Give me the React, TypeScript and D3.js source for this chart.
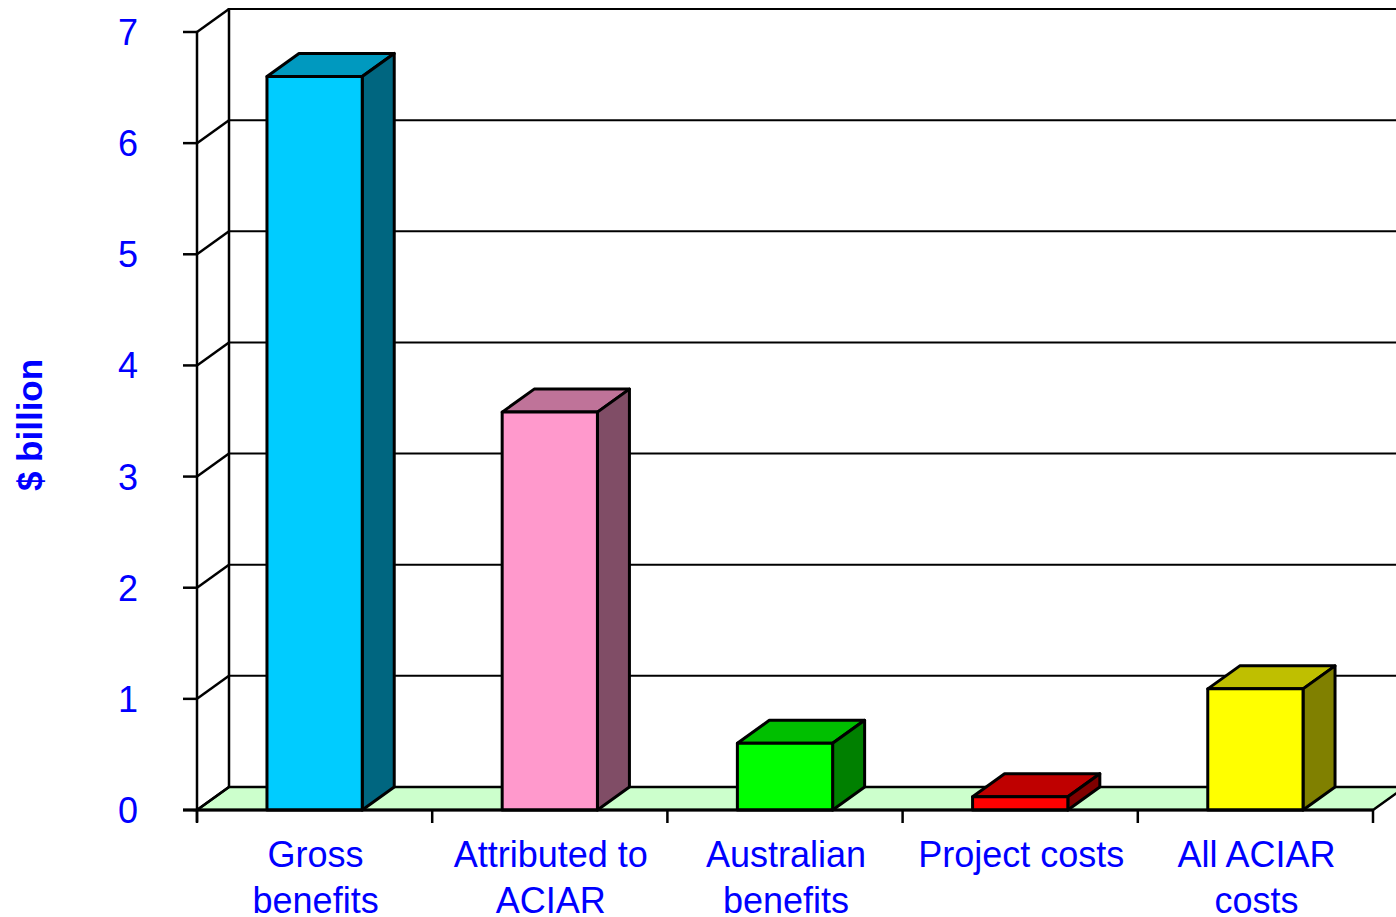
import { useRef, useEffect } from "react";
import * as d3 from "d3";

// values ($ billion)
const categories = ["Gross benefits", "Attributed to ACIAR", "Australian benefits", "Project costs", "All ACIAR costs"];
const labelLines = [["Gross", "benefits"], ["Attributed to", "ACIAR"], ["Australian", "benefits"], ["Project costs"], ["All ACIAR", "costs"]];
const values = [6.6, 3.58, 0.6, 0.12, 1.09];
const yTicks = [0, 1, 2, 3, 4, 5, 6, 7];

const frontColors = ["#00CCFF", "#FF99CC", "#00FF00", "#FF0000", "#FFFF00"];
const topColors = ["#0099BF", "#BF7399", "#00BF00", "#BF0000", "#BFBF00"];
const sideColors = ["#006680", "#804D66", "#008000", "#800000", "#808000"];

export default function App() {
  const svgRef = useRef(null);

  useEffect(() => {
    const W = 1396, H = 917;
    const svg = d3.select(svgRef.current);
    svg.attr("width", W).attr("height", H).attr("viewBox", [0, 0, W, H]);
    svg.selectAll("*").remove();

    const x0 = 197, x1 = 1373, y0 = 810, yTop = 32;
    const dx = 32, dy = -23; // depth offset
    const blue = "#0000FF";
    const font = "Arial, 'Liberation Sans', sans-serif";

    const x = d3.scaleBand().domain(categories).range([x0, x1]).padding(0);
    const y = d3.scaleLinear().domain([0, 7]).range([y0, yTop]);
    const barW = x.bandwidth() * 0.405;

    const g = svg.append("g");

    // floor
    g.append("path")
      .attr("d", `M${x0},${y0}L${x1},${y0}L${x1 + dx},${y0 + dy}L${x0 + dx},${y0 + dy}Z`)
      .attr("fill", "#CCFFCC")
      .attr("stroke", "#000")
      .attr("stroke-width", 2.5);

    // back wall gridlines + side wall diagonals
    yTicks.filter((t) => t > 0).forEach((t) => {
      g.append("line")
        .attr("x1", x0 + dx).attr("x2", W + 20)
        .attr("y1", y(t) + dy).attr("y2", y(t) + dy)
        .attr("stroke", "#000").attr("stroke-width", 2);
    });
    yTicks.forEach((t) => {
      g.append("line")
        .attr("x1", x0).attr("x2", x0 + dx)
        .attr("y1", y(t)).attr("y2", y(t) + dy)
        .attr("stroke", "#000").attr("stroke-width", 2.5);
    });
    // back wall left edge
    g.append("line")
      .attr("x1", x0 + dx).attr("x2", x0 + dx)
      .attr("y1", y(7) + dy - 1).attr("y2", y0 + dy)
      .attr("stroke", "#000").attr("stroke-width", 2.5);

    // front y axis
    g.append("line")
      .attr("x1", x0).attr("x2", x0)
      .attr("y1", y(7)).attr("y2", y0 + 12)
      .attr("stroke", "#000").attr("stroke-width", 2.5);
    yTicks.forEach((t) => {
      g.append("line")
        .attr("x1", x0 - 14).attr("x2", x0)
        .attr("y1", y(t)).attr("y2", y(t))
        .attr("stroke", "#000").attr("stroke-width", 2.5);
      g.append("text")
        .attr("x", 138).attr("y", y(t))
        .attr("dy", "0.36em")
        .attr("text-anchor", "end")
        .attr("font-family", font)
        .attr("font-size", 36)
        .attr("fill", blue)
        .text(t);
    });

    // x axis ticks
    const bounds = categories.map((c) => x(c)).concat([x1]);
    bounds.forEach((b) => {
      g.append("line")
        .attr("x1", b).attr("x2", b)
        .attr("y1", y0).attr("y2", y0 + 13)
        .attr("stroke", "#000").attr("stroke-width", 2.5);
    });

    // bars
    categories.forEach((c, i) => {
      const bx = x(c) + (x.bandwidth() - barW) / 2;
      const by = y(values[i]);
      const bar = g.append("g")
        .attr("stroke", "#000").attr("stroke-width", 3).attr("stroke-linejoin", "round");
      bar.append("path")
        .attr("d", `M${bx},${by}L${bx + dx},${by + dy}L${bx + barW + dx},${by + dy}L${bx + barW},${by}Z`)
        .attr("fill", topColors[i]);
      bar.append("path")
        .attr("d", `M${bx + barW},${by}L${bx + barW + dx},${by + dy}L${bx + barW + dx},${y0 + dy}L${bx + barW},${y0}Z`)
        .attr("fill", sideColors[i]);
      bar.append("rect")
        .attr("x", bx).attr("y", by)
        .attr("width", barW).attr("height", y0 - by)
        .attr("fill", frontColors[i]);
    });

    // front x axis line
    g.append("line")
      .attr("x1", x0 - 14).attr("x2", x1)
      .attr("y1", y0).attr("y2", y0)
      .attr("stroke", "#000").attr("stroke-width", 3);

    // category labels
    categories.forEach((c, i) => {
      const cx = x(c) + x.bandwidth() / 2 + 1;
      labelLines[i].forEach((ln, j) => {
        g.append("text")
          .attr("x", cx).attr("y", 867 + j * 46)
          .attr("text-anchor", "middle")
          .attr("font-family", font)
          .attr("font-size", 36)
          .attr("fill", blue)
          .text(ln);
      });
    });

    // y axis title
    g.append("text")
      .attr("transform", `translate(42,425)rotate(-90)`)
      .attr("text-anchor", "middle")
      .attr("font-family", font)
      .attr("font-size", 35)
      .attr("font-weight", "bold")
      .attr("fill", blue)
      .text("$ billion");
  }, []);

  return (
    <div style={{ position: "fixed", left: 0, top: 0, width: 1396, height: 917, overflow: "hidden", background: "#fff" }}>
      <svg ref={svgRef}></svg>
    </div>
  );
}
